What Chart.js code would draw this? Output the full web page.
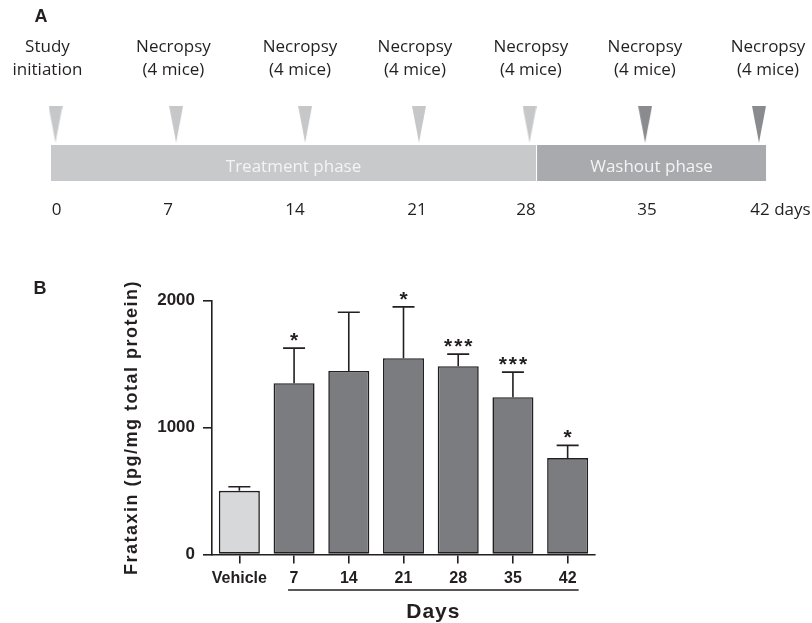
<!DOCTYPE html>
<html>
<head>
<meta charset="utf-8">
<script src="https://cdn.jsdelivr.net/npm/chart.js@4.4.1/dist/chart.umd.min.js"></script>
<style>
  body { margin: 0; background: #fff; }
  #wrap { position: relative; width: 812px; height: 623px; }
  canvas { position: absolute; left: 0; }
  #timeline { top: 0; }
  #bars { top: 240px; }
</style>
</head>
<body>
<div id="wrap">
  <canvas id="timeline" width="812" height="240"></canvas>
  <canvas id="bars" width="812" height="383"></canvas>
</div>
<script>
// ---- panel A: study timeline (x in days) ----
var dayNumbers = [0, 7, 14, 21, 28, 35, 42];
var dayNumberAt = [0.07, 6.72, 14.3, 21.58, 28.09, 35.31, 42.06];
var captions = [
  ['Study', 'initiation'],
  ['Necropsy', '(4 mice)'],
  ['Necropsy', '(4 mice)'],
  ['Necropsy', '(4 mice)'],
  ['Necropsy', '(4 mice)'],
  ['Necropsy', '(4 mice)'],
  ['Necropsy', '(4 mice)']
];
var captionAt = [-0.48, 7.04, 14.6, 21.46, 28.38, 35.19, 42.54];
var markerDays = [0, 7.2, 14.9, 21.7, 28.3, 35.2, 42];
var markerWashout = [false, false, false, false, false, true, true];
var phaseNames = ['Treatment phase', 'Washout phase'];
var phaseFrom = [-0.27, 28.75];
var phaseTo = [28.69, 42.42];

// ---- panel B: frataxin levels ----
var groups = ['Vehicle', '7', '14', '21', '28', '35', '42'];
var frataxinMean = [502, 1350, 1447, 1547, 1484, 1240, 760];
var frataxinSem = [32, 276, 462, 404, 95, 197, 100];
var significance = ['', '*', '', '*', '***', '***', '*'];
var yTitle = 'Frataxin (pg/mg total protein)';

var INK = '#231f20';
var ARIAL = '"Liberation Sans", Arial, sans-serif';

function makeTriangle(color) {
  var c = document.createElement('canvas');
  c.width = 14; c.height = 37;
  var g = c.getContext('2d');
  g.fillStyle = color;
  g.beginPath();
  g.moveTo(0, 0); g.lineTo(14, 0); g.lineTo(7, 37); g.closePath();
  g.fill();
  return c;
}
var lightTri = makeTriangle('#c6c7c9');
var darkTri = makeTriangle('#8a8b8e');

// y of the timeline chart is simply pixel rows (0 top .. 240 bottom)
var TRI_Y = 124.5, PHASE_Y = 166;

var timelineText = {
  id: 'timelineText',
  afterDatasetsDraw: function(chart) {
    var ctx = chart.ctx, x = chart.scales.x;
    ctx.save();
    ctx.fillStyle = INK;
    ctx.font = 'bold 18px ' + ARIAL;
    ctx.textAlign = 'center';
    ctx.textBaseline = 'middle';
    ctx.fillText('A', 41, 17);

    ctx.font = '17px "Open Sans", sans-serif';
    captions.forEach(function(lines, i) {
      var px = x.getPixelForValue(captionAt[i]);
      ctx.fillText(lines[0], px, 47);
      ctx.fillText(lines[1], px, 70);
    });
    dayNumbers.forEach(function(d, i) {
      var px = x.getPixelForValue(dayNumberAt[i]);
      ctx.textAlign = 'center';
      ctx.fillText(String(d), px, 210);
      if (i === dayNumbers.length - 1) {
        ctx.textAlign = 'left';
        ctx.fillText(' days', px + ctx.measureText(String(d)).width / 2, 210);
      }
    });
    ctx.textAlign = 'center';
    ctx.fillStyle = '#f4f4f4';
    phaseNames.forEach(function(name, i) {
      var mid = (x.getPixelForValue(phaseFrom[i]) + x.getPixelForValue(phaseTo[i])) / 2;
      ctx.fillText(name, mid, PHASE_Y + 1);
    });
    ctx.restore();
  }
};

new Chart(document.getElementById('timeline'), {
  type: 'scatter',
  data: {
    datasets: [
      {
        data: [{x: phaseFrom[0], y: PHASE_Y}, {x: phaseTo[0], y: PHASE_Y}],
        showLine: true, borderColor: '#c8c9cb', borderWidth: 36,
        borderCapStyle: 'butt', pointRadius: 0, clip: false
      },
      {
        data: [{x: phaseFrom[1], y: PHASE_Y}, {x: phaseTo[1], y: PHASE_Y}],
        showLine: true, borderColor: '#a9aaad', borderWidth: 36,
        borderCapStyle: 'butt', pointRadius: 0, clip: false
      },
      {
        data: markerDays.map(function(d) { return {x: d, y: TRI_Y}; }),
        pointStyle: function(c) { return markerWashout[c.dataIndex] ? darkTri : lightTri; },
        pointRadius: 7, clip: false
      }
    ]
  },
  options: {
    responsive: false,
    animation: false,
    events: [],
    layout: { padding: { left: 55.5, right: 53, top: 0, bottom: 0 } },
    plugins: { legend: { display: false }, tooltip: { enabled: false } },
    scales: {
      x: { type: 'linear', min: 0, max: 42, display: false },
      y: { type: 'linear', min: 0, max: 240, reverse: true, display: false }
    }
  },
  plugins: [timelineText]
});

// ---- panel B ----
var barExtras = {
  id: 'barExtras',
  afterDatasetsDraw: function(chart) {
    var ctx = chart.ctx, y = chart.scales.y, x = chart.scales.x, area = chart.chartArea;
    var bars = chart.getDatasetMeta(0).data;
    ctx.save();
    ctx.strokeStyle = INK;
    ctx.lineWidth = 1.6;
    ctx.fillStyle = INK;
    bars.forEach(function(bar, i) {
      var top = y.getPixelForValue(frataxinMean[i] + frataxinSem[i]);
      ctx.beginPath();
      ctx.moveTo(bar.x, bar.y);
      ctx.lineTo(bar.x, top);
      ctx.moveTo(bar.x - 11, top);
      ctx.lineTo(bar.x + 11, top);
      ctx.stroke();
      if (significance[i]) {
        ctx.font = 'bold 21px ' + ARIAL;
        ctx.textAlign = 'center';
        ctx.textBaseline = 'alphabetic';
        ctx.letterSpacing = '2px';
        ctx.fillText(significance[i], bar.x + 1, top - 1);
      }
    });
    ctx.letterSpacing = '0px';

    // "Days" bracket under the treated groups
    var x0 = x.getPixelForValue(1) - 6, x1 = x.getPixelForValue(6) + 11;
    ctx.beginPath();
    ctx.moveTo(x0, 350);
    ctx.lineTo(x1, 350);
    ctx.stroke();
    ctx.font = 'bold 21px ' + ARIAL;
    ctx.textAlign = 'center';
    ctx.textBaseline = 'middle';
    ctx.letterSpacing = '1px';
    ctx.fillText('Days', (x0 + x1) / 2, 372);

    // y axis title
    ctx.save();
    ctx.translate(132, (area.top + area.bottom) / 2);
    ctx.rotate(-Math.PI / 2);
    ctx.font = 'bold 18px ' + ARIAL;
    ctx.letterSpacing = '1.5px';
    ctx.fillText(yTitle, 0, 0);
    ctx.restore();

    ctx.letterSpacing = '0px';
    ctx.font = 'bold 18px ' + ARIAL;
    ctx.fillText('B', 40, 49);
    ctx.restore();
  }
};

new Chart(document.getElementById('bars'), {
  type: 'bar',
  data: {
    labels: groups,
    datasets: [{
      data: frataxinMean,
      backgroundColor: groups.map(function(g, i) { return i === 0 ? '#d7d8da' : '#7b7c80'; }),
      borderColor: INK,
      borderWidth: 1.6,
      borderSkipped: false,
      barPercentage: 0.75,
      categoryPercentage: 1
    }]
  },
  options: {
    responsive: false,
    animation: false,
    events: [],
    layout: { padding: { left: 121, right: 217, top: 60.7, bottom: 0 } },
    plugins: { legend: { display: false }, tooltip: { enabled: false } },
    scales: {
      x: {
        afterFit: function(s) { s.height = 68.5; },
        border: { display: true, color: INK, width: 1.6 },
        grid: { offset: false, drawOnChartArea: false, drawTicks: true, tickLength: 9, color: INK, lineWidth: 1.6 },
        ticks: { color: INK, padding: 5, maxRotation: 0, minRotation: 0, autoSkip: false,
                 font: { family: ARIAL, size: 16, weight: 'bold' } }
      },
      y: {
        min: 0, max: 2000,
        afterFit: function(s) { s.width = 91; },
        border: { display: true, color: INK, width: 1.6 },
        grid: { drawOnChartArea: false, drawTicks: true, tickLength: 9, color: INK, lineWidth: 1.6 },
        ticks: { stepSize: 1000, color: INK, padding: 8,
                 callback: function(v) { return String(v); },
                 font: { family: ARIAL, size: 17, weight: 'bold' } }
      }
    }
  },
  plugins: [barExtras]
});
</script>
</body>
</html>
